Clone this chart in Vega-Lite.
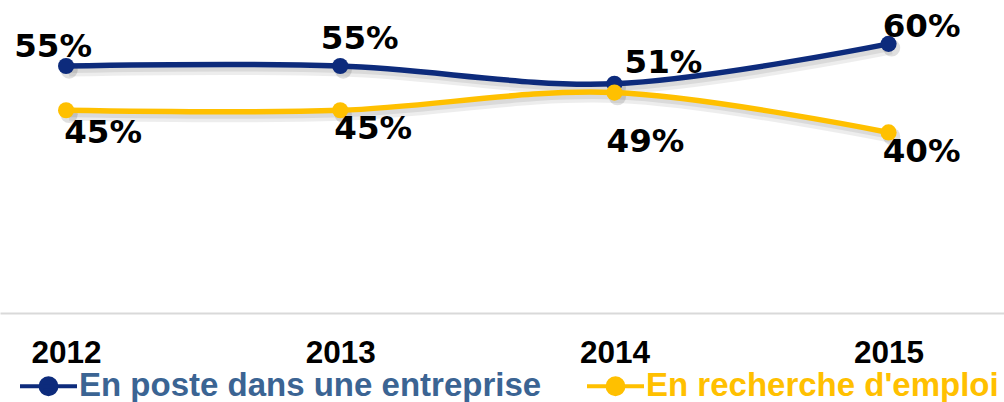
{
  "$schema": "https://vega.github.io/schema/vega-lite/v6.json",
  "width": 1004,
  "height": 313,
  "autosize": {"type": "none"},
  "padding": {"left": 0, "top": 0, "right": 0, "bottom": 89},
  "background": "white",
  "config": {"view": {"stroke": null}},
  "data": {
    "values": [
      {"year": 2012, "series": "En poste dans une entreprise", "value": 0.55},
      {"year": 2013, "series": "En poste dans une entreprise", "value": 0.55},
      {"year": 2014, "series": "En poste dans une entreprise", "value": 0.51},
      {"year": 2015, "series": "En poste dans une entreprise", "value": 0.60},
      {"year": 2012, "series": "En recherche d'emploi", "value": 0.45},
      {"year": 2013, "series": "En recherche d'emploi", "value": 0.45},
      {"year": 2014, "series": "En recherche d'emploi", "value": 0.49},
      {"year": 2015, "series": "En recherche d'emploi", "value": 0.40}
    ]
  },
  "encoding": {
    "x": {
      "field": "year", "type": "quantitative",
      "scale": {"domain": [2011.759, 2015.421], "nice": false, "zero": false},
      "axis": {
        "title": null, "values": [2012, 2013, 2014, 2015], "format": "d",
        "grid": false, "ticks": false, "tickSize": 0,
        "domainColor": "#d9d9d9", "domainWidth": 2,
        "labelFont": "Liberation Sans", "labelFontWeight": "bold", "labelFontSize": 31.5,
        "labelColor": "#000000", "labelBaseline": "alphabetic", "labelPadding": 49,
        "labelFlush": false, "labelOverlap": false
      }
    },
    "y": {
      "field": "value", "type": "quantitative",
      "scale": {"domain": [-0.0077, 0.699], "nice": false, "zero": false},
      "axis": null
    }
  },
  "layer": [
    {
      "mark": {"type": "line", "interpolate": "cardinal", "strokeWidth": 11, "color": "#000000", "opacity": 0.07, "xOffset": 3, "yOffset": 5},
      "encoding": {"detail": {"field": "series"}}
    },
    {
      "mark": {"type": "line", "interpolate": "cardinal", "strokeWidth": 6, "color": "#000000", "opacity": 0.08, "xOffset": 3, "yOffset": 4},
      "encoding": {"detail": {"field": "series"}}
    },
    {
      "mark": {"type": "circle", "size": 300, "color": "#000000", "opacity": 0.12, "xOffset": 3, "yOffset": 4},
      "encoding": {}
    },
    {
      "mark": {"type": "line", "interpolate": "cardinal", "strokeWidth": 5.5},
      "encoding": {
        "color": {
          "field": "series", "type": "nominal",
          "scale": {"domain": ["En poste dans une entreprise", "En recherche d'emploi"], "range": ["#0d2b7c", "#ffc000"]},
          "legend": {
            "title": null, "orient": "none", "direction": "horizontal",
            "legendX": 18, "legendY": 355.5, "padding": 0,
            "symbolType": "M-1,0H1M-0.28,0A0.28,0.28,0,1,1,0.28,0A0.28,0.28,0,1,1,-0.28,0Z",
            "symbolSize": 3249, "symbolStrokeWidth": 4,
            "labelFont": "Liberation Sans", "labelFontWeight": "bold", "labelFontSize": 33,
            "labelOffset": 0, "columnPadding": 37, "labelLimit": 600,
            "encode": {
              "symbols": {"update": {
                "fill": {"scale": "color", "field": "value"},
                "stroke": {"scale": "color", "field": "value"},
                "strokeWidth": {"value": 4},
                "opacity": {"value": 1}
              }},
              "labels": {"update": {
                "fill": {"signal": "datum.label == 'En poste dans une entreprise' ? '#3b6493' : '#ffc000'"}
              }}
            }
          }
        }
      }
    },
    {
      "mark": {"type": "circle", "size": 260, "opacity": 1},
      "encoding": {
        "color": {"field": "series", "type": "nominal", "legend": null}
      }
    },
    {
      "transform": [{"filter": "datum.series == 'En poste dans une entreprise' && datum.year == 2012"}],
      "mark": {"type": "text", "font": "DejaVu Sans", "fontWeight": "bold", "fontSize": 32.5, "align": "center", "baseline": "alphabetic", "dx": -13, "dy": -9, "color": "#000000"},
      "encoding": {"text": {"field": "value", "type": "quantitative", "format": ".0%"}}
    },
    {
      "transform": [{"filter": "datum.series == 'En poste dans une entreprise' && datum.year == 2013"}],
      "mark": {"type": "text", "font": "DejaVu Sans", "fontWeight": "bold", "fontSize": 32.5, "align": "center", "baseline": "alphabetic", "dx": 19.5, "dy": -17, "color": "#000000"},
      "encoding": {"text": {"field": "value", "type": "quantitative", "format": ".0%"}}
    },
    {
      "transform": [{"filter": "datum.series == 'En poste dans une entreprise' && datum.year == 2014"}],
      "mark": {"type": "text", "font": "DejaVu Sans", "fontWeight": "bold", "fontSize": 32.5, "align": "center", "baseline": "alphabetic", "dx": 49, "dy": -11, "color": "#000000"},
      "encoding": {"text": {"field": "value", "type": "quantitative", "format": ".0%"}}
    },
    {
      "transform": [{"filter": "datum.series == 'En poste dans une entreprise' && datum.year == 2015"}],
      "mark": {"type": "text", "font": "DejaVu Sans", "fontWeight": "bold", "fontSize": 32.5, "align": "center", "baseline": "alphabetic", "dx": 33, "dy": -7, "color": "#000000"},
      "encoding": {"text": {"field": "value", "type": "quantitative", "format": ".0%"}}
    },
    {
      "transform": [{"filter": "datum.series == \"En recherche d'emploi\" && datum.year == 2012"}],
      "mark": {"type": "text", "font": "DejaVu Sans", "fontWeight": "bold", "fontSize": 32.5, "align": "center", "baseline": "alphabetic", "dx": 37, "dy": 33, "color": "#000000"},
      "encoding": {"text": {"field": "value", "type": "quantitative", "format": ".0%"}}
    },
    {
      "transform": [{"filter": "datum.series == \"En recherche d'emploi\" && datum.year == 2013"}],
      "mark": {"type": "text", "font": "DejaVu Sans", "fontWeight": "bold", "fontSize": 32.5, "align": "center", "baseline": "alphabetic", "dx": 33, "dy": 29, "color": "#000000"},
      "encoding": {"text": {"field": "value", "type": "quantitative", "format": ".0%"}}
    },
    {
      "transform": [{"filter": "datum.series == \"En recherche d'emploi\" && datum.year == 2014"}],
      "mark": {"type": "text", "font": "DejaVu Sans", "fontWeight": "bold", "fontSize": 32.5, "align": "center", "baseline": "alphabetic", "dx": 31, "dy": 59, "color": "#000000"},
      "encoding": {"text": {"field": "value", "type": "quantitative", "format": ".0%"}}
    },
    {
      "transform": [{"filter": "datum.series == \"En recherche d'emploi\" && datum.year == 2015"}],
      "mark": {"type": "text", "font": "DejaVu Sans", "fontWeight": "bold", "fontSize": 32.5, "align": "center", "baseline": "alphabetic", "dx": 33, "dy": 30, "color": "#000000"},
      "encoding": {"text": {"field": "value", "type": "quantitative", "format": ".0%"}}
    }
  ]
}
